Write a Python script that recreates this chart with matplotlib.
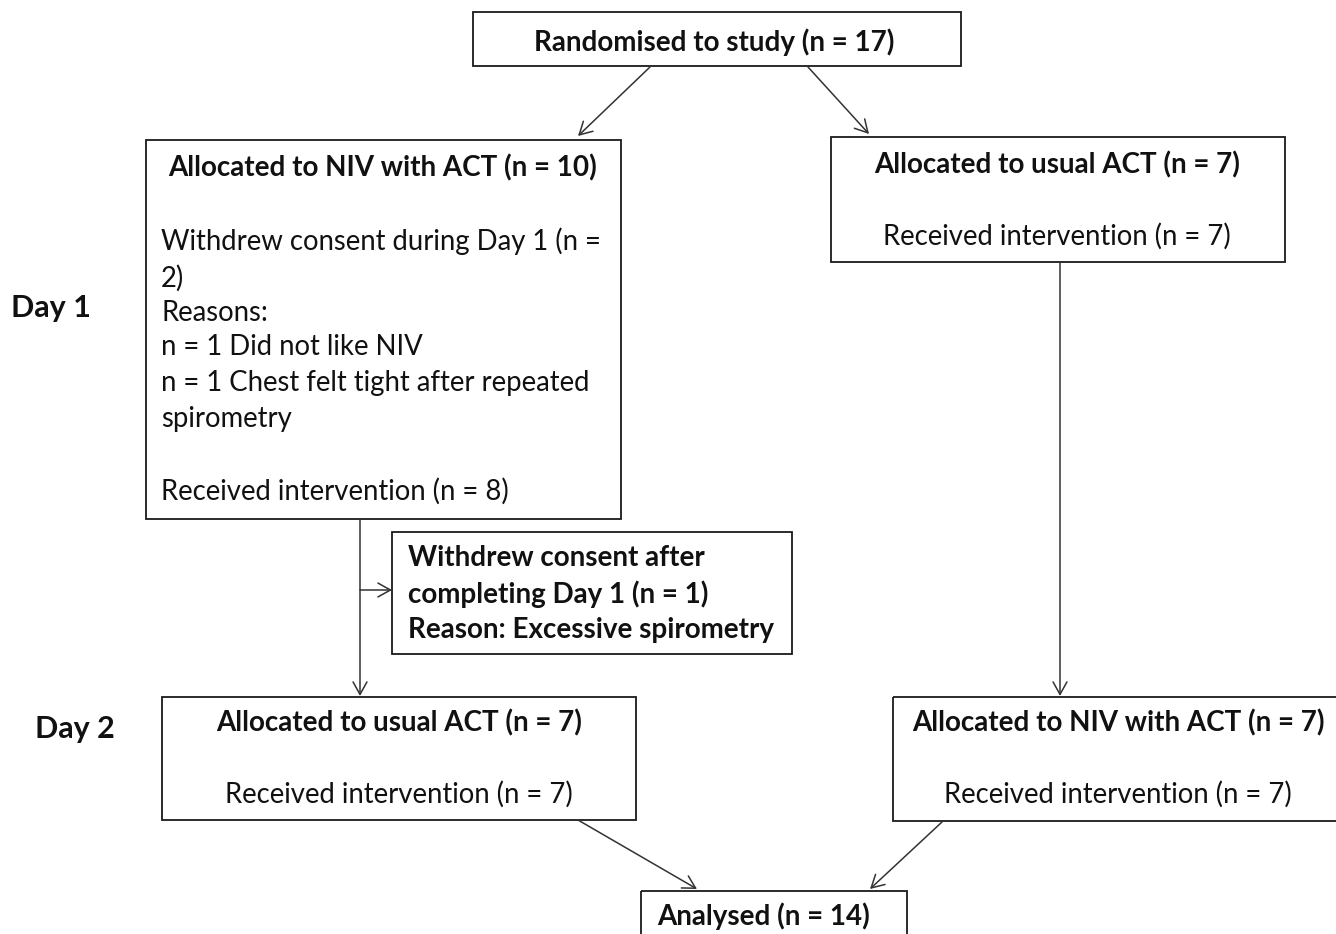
import matplotlib
matplotlib.use("Agg")
import matplotlib.pyplot as plt
from matplotlib.patches import Rectangle, FancyArrowPatch

W, H = 1336, 934
FONT = "Lato"

# ---- content ----
day_labels = ["Day 1", "Day 2"]
top_title = "Randomised to study (n = 17)"
left1_title = "Allocated to NIV with ACT (n = 10)"
left1_body = ["Withdrew consent during Day 1 (n =", "2)", "Reasons:",
              "n = 1 Did not like NIV", "n = 1 Chest felt tight after repeated",
              "spirometry", "", "Received intervention (n = 8)"]
right1_title = "Allocated to usual ACT (n = 7)"
right1_body = "Received intervention (n = 7)"
withdrew_lines = ["Withdrew consent after", "completing Day 1 (n = 1)",
                  "Reason: Excessive spirometry"]
left2_title = "Allocated to usual ACT (n = 7)"
left2_body = "Received intervention (n = 7)"
right2_title = "Allocated to NIV with ACT (n = 7)"
right2_body = "Received intervention (n = 7)"
final_title = "Analysed (n = 14)"

# ---- layout (pixel coords: x0, y0, x1, y1) ----
boxes = {
    "top": (473, 12, 961, 66),
    "left1": (146, 140, 621, 519),
    "right1": (831, 137, 1285, 262),
    "withdrew": (392, 532, 792, 654),
    "left2": (162, 697, 636, 820),
    "right2": (893, 697, 1345, 821),
    "final": (641, 891, 907, 945),
}

fig = plt.figure(figsize=(W / 100, H / 100), dpi=100)
ax = fig.add_axes([0, 0, 1, 1])
ax.set_xlim(0, W)
ax.set_ylim(H, 0)
ax.axis("off")

for k, (x0, y0, x1, y1) in boxes.items():
    ax.add_patch(Rectangle((x0, y0), x1 - x0, y1 - y0, fill=False,
                           edgecolor="#1a1a1a", linewidth=1.3))

FS = 19.8
BFS = 20.0
col = "#111111"

def txt(x, y, s, bold=False, ha="center", size=None):
    ax.text(x, y, s, fontsize=size or (BFS if bold else FS), family=FONT,
            fontweight="bold" if bold else "normal", ha=ha, va="center", color=col)

txt(714, 42, top_title, bold=True)
txt(383, 168, left1_title, bold=True)
ys = [241, 278, 313, 347, 383, 419, 455, 491]
for y, s in zip(ys, left1_body):
    if s:
        txt(161, y, s, ha="left")
txt(1057, 165, right1_title, bold=True)
txt(1057, 236, right1_body)
for y, s in zip([558, 594, 630], withdrew_lines):
    txt(408, y, s, bold=True, ha="left")
txt(399, 723, left2_title, bold=True)
txt(399, 794, left2_body)
txt(1118, 723, right2_title, bold=True)
txt(1118, 794, right2_body)
txt(764, 916, final_title, bold=True)
txt(51, 308, day_labels[0], bold=True, size=22)
txt(75, 729, day_labels[1], bold=True, size=22)

def arrow(p, q):
    ax.add_patch(FancyArrowPatch(p, q, arrowstyle="->,head_length=9,head_width=5",
                                 mutation_scale=1, color="#333333", linewidth=1.1,
                                 shrinkA=0, shrinkB=0))

arrow((650, 67), (578, 136))
arrow((808, 67), (869, 134))
arrow((1060, 262), (1060, 696))
arrow((360, 519), (360, 696))
arrow((360, 590), (392, 590))
arrow((578, 820), (697, 889))
arrow((942, 822), (870, 889))

fig.savefig("out.png", dpi=100, facecolor="white")
